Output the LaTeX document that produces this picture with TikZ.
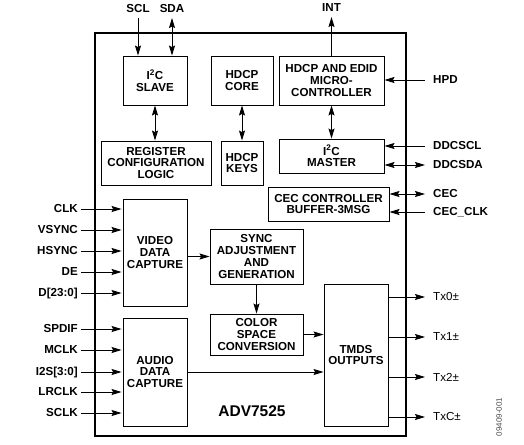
\documentclass[tikz,border=0pt]{standalone}
\usepackage{fontspec}
\setmainfont{Liberation Sans}
\usetikzlibrary{positioning, arrows.meta}

\tikzset{
  >={Stealth[length=10pt,width=6pt,inset=1.5pt]},
  blk/.style={draw, line width=0.9pt, align=center, inner sep=1pt,
    font=\bfseries\fontsize{11.6}{11.7}\selectfont},
  sigl/.style={anchor=east, inner xsep=3pt, inner ysep=1pt, font=\bfseries\fontsize{11.6}{12}\selectfont},
  sigr/.style={anchor=west, inner xsep=8pt, inner ysep=1pt, font=\bfseries\fontsize{11.6}{12}\selectfont},
  sigt/.style={anchor=south, inner xsep=1pt, inner ysep=5pt, font=\bfseries\fontsize{11.6}{12}\selectfont},
  txr/.style={anchor=west, inner xsep=8pt, inner ysep=1pt, font=\fontsize{11.6}{12}\selectfont},
  wire/.style={line width=0.9pt}
}

\begin{document}
\begin{tikzpicture}[x=1pt, y=-1pt]
    \useasboundingbox (0,0) rectangle (524,444);
    % Chip outline
    \draw[line width=2.4pt] (95,33) rectangle (406,436);
    \node[font=\bfseries\fontsize{15.5}{16}\selectfont] (chip) at (252,411) {ADV7525};

    % Blocks
    \node[blk, minimum width=64pt, minimum height=49pt] (slave) at (155,80.5) {I\textsuperscript{2}C\\SLAVE};
    \node[blk, minimum width=62pt, minimum height=49pt] (core) at (242,80.5) {HDCP\\CORE};
    \node[blk, minimum width=105pt, minimum height=49pt] (micro) at (331.5,80.5) {HDCP AND EDID\\MICRO-\\CONTROLLER};
    \node[blk, minimum width=110pt, minimum height=44pt] (regcfg) at (156,163) {REGISTER\\CONFIGURATION\\LOGIC};
    \node[blk, minimum width=42pt, minimum height=44pt] (keys) at (242,163) {HDCP\\KEYS};
    \node[blk, minimum width=105pt, minimum height=34pt] (master) at (331.5,156) {I\textsuperscript{2}C\\MASTER};
    \node[blk, minimum width=121pt, minimum height=34pt] (cec) at (328.5,204) {CEC CONTROLLER\\BUFFER-3MSG};
    \node[blk, minimum width=64pt, minimum height=107pt] (video) at (155,252.5) {VIDEO\\DATA\\CAPTURE};
    \node[blk, minimum width=64pt, minimum height=108pt] (audio) at (155,372) {AUDIO\\DATA\\CAPTURE};
    \node[blk, minimum width=93pt, minimum height=55pt] (sync) at (256.5,256.5) {SYNC\\ADJUSTMENT\\AND\\GENERATION};
    \node[blk, minimum width=93pt, minimum height=41pt] (color) at (256.5,334.5) {COLOR\\SPACE\\CONVERSION};
    \node[blk, minimum width=64pt, minimum height=142pt] (tmds) at (356,355) {TMDS\\OUTPUTS};

    % Internal connections
    \draw[wire, <->] (slave.south) -- (slave.south |- regcfg.north);
    \draw[wire, <->] (core) -- (keys);
    \draw[wire, <->] (micro) -- (master);
    \draw[wire, ->] (video.east |- sync) -- (sync.west);
    \draw[wire, ->] (sync) -- (color);
    \draw[wire, ->] (color.east) -- (tmds.west |- color.east);
    \draw[wire, ->] (audio.east) -- (tmds.west |- audio.east);

    % Top pins
    \node[sigt] (scl) at (138,18) {SCL};
    \node[sigt] (sda) at (172,18) {SDA};
    \node[sigt] (int) at (331.5,17) {INT};
    \draw[wire, ->] (scl.south) -- (slave.north -| scl);
    \draw[wire, <->] (sda.south) -- (slave.north -| sda);
    \draw[wire, ->] (micro.north) -- (int.south);

    % Right pins
    \node[sigr] (hpd) at (425,80) {HPD};
    \node[sigr] (ddcscl) at (425,146) {DDCSCL};
    \node[sigr] (ddcsda) at (425,165) {DDCSDA};
    \node[sigr] (cecp) at (425,194) {CEC};
    \node[sigr] (cecclk) at (425,212) {CEC\_CLK};
    \draw[wire, ->] (hpd.west) -- (micro.east |- hpd);
    \draw[wire, ->] (ddcscl.west) -- (master.east |- ddcscl);
    \draw[wire, <->] (ddcsda.west) -- (master.east |- ddcsda);
    \draw[wire, <->] (cecp.west) -- (cec.east |- cecp);
    \draw[wire, ->] (cecclk.west) -- (cec.east |- cecclk);

    % Video inputs
    \foreach \nm/\txt/\yy in {clk/CLK/209, vsync/VSYNC/230, hsync/HSYNC/251, de/DE/272, dbus/D[23:0]/293} {
        \node[sigl] (\nm) at (81,\yy) {\txt};
        \draw[wire, ->] (\nm.east) -- ([xshift=-1pt]video.west |- \nm.east);
    }
    % Audio inputs
    \foreach \nm/\txt/\yy in {spdif/SPDIF/329, mclk/MCLK/350, iis/I2S[3:0]/372, lrclk/LRCLK/392, sclk/SCLK/413} {
        \node[sigl] (\nm) at (81,\yy) {\txt};
        \draw[wire, ->] (\nm.east) -- ([xshift=-1pt]audio.west |- \nm.east);
    }

    % TMDS outputs
    \foreach \nm/\txt/\yy in {txa/Tx0/297, txb/Tx1/337, txc/Tx2/377, txd/TxC/417} {
        \node[txr] (\nm) at (425,\yy) {\txt±};
        \draw[wire, ->] (tmds.east |- \nm.west) -- (\nm.west);
    }

    \node[rotate=90, text=black!70, font=\fontsize{8}{8}\selectfont] (fig) at (499,417) {09409-001};
\end{tikzpicture}
\end{document}
